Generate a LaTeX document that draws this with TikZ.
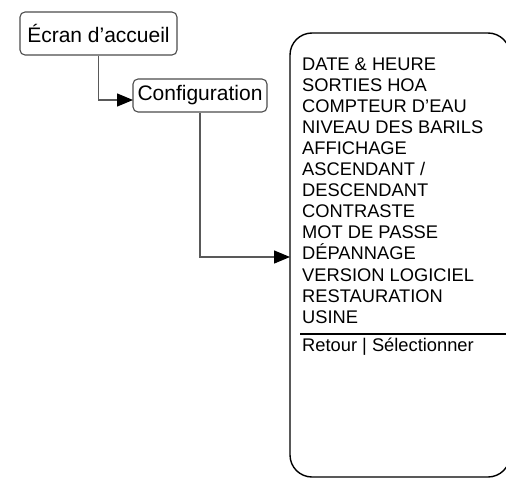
\documentclass[tikz,border=0pt]{standalone}
\usepackage{fontspec}
\setmainfont{Liberation Sans}
\usetikzlibrary{arrows.meta}
\begin{document}
\begin{tikzpicture}[x=1pt,y=-1pt,
  smallbox/.style={draw=black!70,line width=1.1pt,rounded corners=5pt,fill=white,inner sep=0pt,font=\fontsize{21}{24}\selectfont},
  conn/.style={draw=black!65,line width=1.4pt,-{Triangle[length=16pt,width=13pt,fill=black,color=black]}},
  item/.style={anchor=base west,inner sep=0pt,font=\fontsize{18.3}{21.1}\selectfont}]
\useasboundingbox (0,0) rectangle (506,479);
\begin{scope}
\clip (0,0) rectangle (506,479);
\node[smallbox,minimum width=157pt,minimum height=43pt] (ecran) at (98.5,33.5) {Écran d’accueil};
\node[smallbox,minimum width=134pt,minimum height=33pt] (config) at (200,95.5) {Configuration};
\node[draw=black,line width=1.4pt,rounded corners=22pt,minimum width=220pt,minimum height=444pt,inner sep=0pt] (menu) at (400,255) {};
\coordinate (a1) at (98.5,100);
\coordinate (a2) at (133,100);
\draw[conn] (ecran.south) -- (a1) -- (a2);
\coordinate (b1) at (200,257);
\coordinate (b2) at (290,257);
\draw[conn] (config.south) -- (b1) -- (b2);
\foreach \t [count=\i] in {DATE \& HEURE,SORTIES HOA,COMPTEUR D’EAU,NIVEAU DES BARILS,AFFICHAGE,ASCENDANT /,DESCENDANT,CONTRASTE,MOT DE PASSE,DÉPANNAGE,VERSION LOGICIEL,RESTAURATION,USINE}
  \node[item] (l\i) at (302,{70+(\i-1)*21.1}) {\t};
\coordinate (s1) at (300,334);
\coordinate (s2) at (506,334);
\draw[line width=1.6pt] (s1) -- (s2);
\node[item] (retour) at (302,351.7) {Retour | Sélectionner};
\end{scope}
\end{tikzpicture}
\end{document}
